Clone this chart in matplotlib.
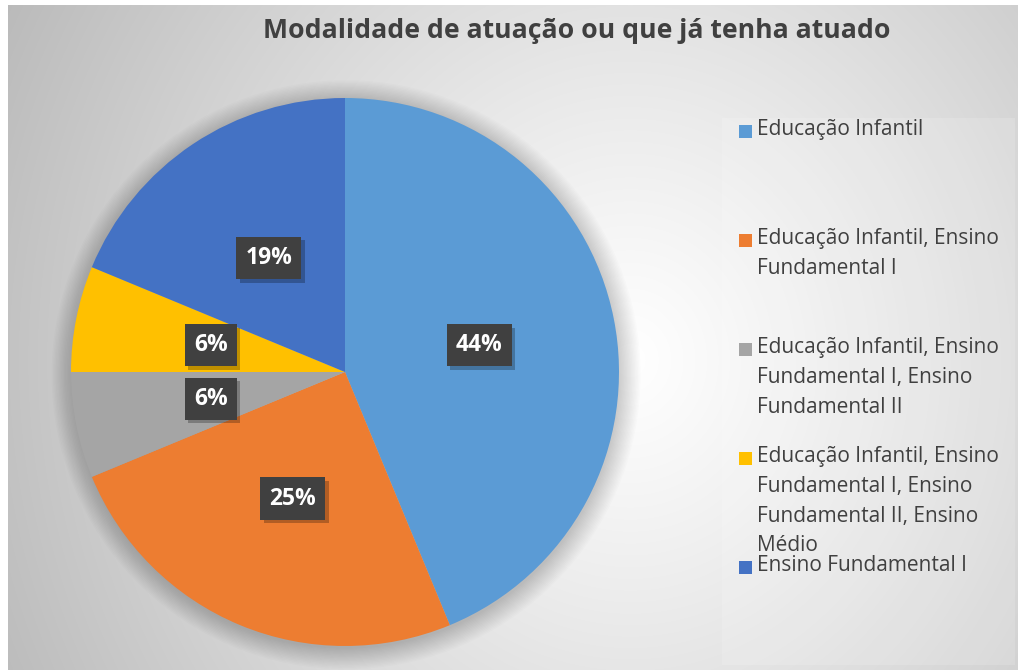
import numpy as np
import matplotlib
matplotlib.use("Agg")
import matplotlib.pyplot as plt
from matplotlib.patches import Rectangle, Circle
import matplotlib.patheffects as pe

title = "Modalidade de atuação ou que já tenha atuado"
categories = [
    "Educação Infantil",
    "Educação Infantil, Ensino\nFundamental I",
    "Educação Infantil, Ensino\nFundamental I, Ensino\nFundamental II",
    "Educação Infantil, Ensino\nFundamental I, Ensino\nFundamental II, Ensino\nMédio",
    "Ensino Fundamental I",
]
values = [7, 4, 1, 1, 3]
colors = ["#5B9BD5", "#ED7D31", "#A5A5A5", "#FFC000", "#4472C4"]

FONT = ["Open Sans", "DejaVu Sans"]
plt.rcParams["font.family"] = FONT
TXT = "#404040"

W, H = 1022, 670
fig = plt.figure(figsize=(W / 100, H / 100), dpi=100)
fig.patch.set_facecolor("white")

# background gradient panel
bg = fig.add_axes([0, 0, 1, 1], zorder=0)
bg.set_xlim(0, W)
bg.set_ylim(H, 0)
bg.axis("off")
xs = np.arange(8, 1018)
ys = np.arange(5, 670)
X, Y = np.meshgrid(xs, ys)
d = np.sqrt(((X - 630) / 560.0) ** 2 + ((Y - 360) / 620.0) ** 2)
v = 1.0 - 0.21 * d ** 1.1
img = np.dstack([v, v, v])
img = np.clip(img, 0, 1)
bg.imshow(img, extent=[8, 1018, 670, 5], interpolation="bilinear", aspect="auto")
bg.add_patch(Rectangle((722, 118), 293, 547, facecolor="white", alpha=0.15, edgecolor="none"))

# pie axes: center (345,372), radius 274 px
cx, cy, r = 345, 372, 274
ax = fig.add_axes([(cx - r) / W, (H - cy - r) / H, 2 * r / W, 2 * r / H], zorder=2)
ax.axis("off")

# soft shadow
for k in range(16):
    ax.add_patch(Circle((0.004, -0.010), 1.0 + k * 0.005, facecolor="black",
                        alpha=0.012, edgecolor="none", zorder=0, clip_on=False))

wedges, texts, autotexts = ax.pie(
    values, colors=colors, startangle=90, counterclock=False, radius=1.0,
    autopct=lambda p: f"{p:.0f}%", pctdistance=0.5,
    wedgeprops=dict(linewidth=0),
    textprops=dict(color="white", fontsize=16.5, fontweight="bold", family=FONT),
)
ax.set_xlim(-1, 1)
ax.set_ylim(-1, 1)
ax.set_aspect("equal")

for t in autotexts:
    t.set_bbox(dict(boxstyle="square,pad=0.4", facecolor="#404040", edgecolor="none"))
    t.set_zorder(5)
    t.get_bbox_patch().set_path_effects(
        [pe.SimplePatchShadow(offset=(2.5, -2.5), shadow_rgbFace="black", alpha=0.25), pe.Normal()])

# title
bg.text(577, 31, title, fontsize=19.2, fontweight="bold", color=TXT, ha="center", va="center", zorder=3)

# legend
ly = [131, 240, 349, 458, 567]
for lab, col, yy in zip(categories, colors, ly):
    bg.add_patch(Rectangle((739, yy - 6.5), 13, 13, facecolor=col, edgecolor="none", zorder=3))
    bg.text(757, yy - 12, lab, fontsize=15, color=TXT, ha="left", va="top",
            linespacing=1.55, zorder=3)

fig.savefig("out.png", dpi=100, facecolor="white")
